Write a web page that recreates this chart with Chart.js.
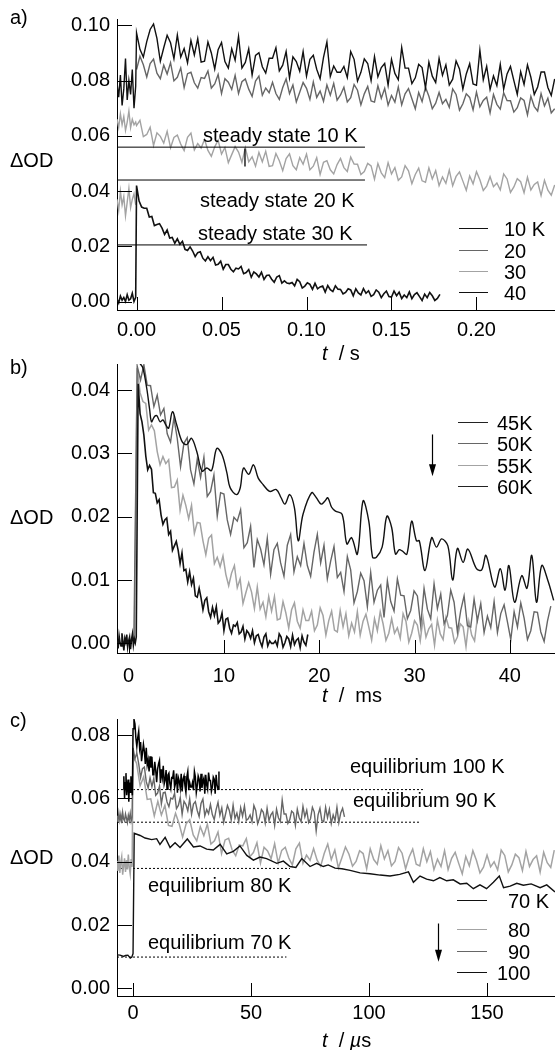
<!DOCTYPE html>
<html>
<head>
<meta charset="utf-8">
<script src="https://cdn.jsdelivr.net/npm/chart.js@4.4.1/dist/chart.umd.min.js"></script>
<style>
  body { margin: 0; background: #fff; }
  #page { position: relative; width: 555px; height: 1050px; overflow: hidden;
          font-family: "Liberation Sans", Arial, Helvetica, sans-serif; font-size: 20px; color: #000; }
  canvas { position: absolute; left: 0; }
  .lbl { position: absolute; line-height: 24px; white-space: nowrap; }
  .key { position: absolute; height: 0; border-top: 1.5px solid #000; }
</style>
</head>
<body>
<div id="page">
  <canvas id="chartA" width="555" height="345" style="top:0px"></canvas>
  <canvas id="chartB" width="555" height="355" style="top:345px"></canvas>
  <canvas id="chartC" width="555" height="350" style="top:700px"></canvas>
</div>
<script>
const FONT = '"Liberation Sans", Arial, Helvetica, sans-serif';
const mOD = 0.001; // all trace values below are written in units of 1e-3 ΔOD
const BLACK = '#111', DARK = '#666', LIGHT = '#a3a3a3';

// ---------- a) t / s ----------
const xTicksA = [0, 0.05, 0.10, 0.15, 0.20];
const yTicksA = [0, 0.02, 0.04, 0.06, 0.08, 0.10];
const legendA = ['10 K', '20', '30', '40'];
const legendColorsA = [BLACK, DARK, LIGHT, BLACK];
const preStartA = -0.0115, preStepA = 0.001;
const pre10K = [79, 74, 82, 71, 77, 88, 73, 80, 75, 84, 70, 78];
const post10K = [ // t = 0 ... every 2 ms
  97.3, 91.3, 88.5, 94.1, 98.5, 100.5, 95.3, 87.0, 91.9, 96.4,
  93.7, 87.9, 96.5, 88.5, 91.6, 86.4, 94.5, 89.3, 95.2, 86.7,
  87.0, 94.0, 90.0, 84.2, 91.2, 93.8, 86.9, 84.5, 91.5, 87.4,
  96.0, 84.5, 86.6, 91.5, 82.0, 89.1, 90.1, 85.0, 82.7, 88.1,
  88.1, 91.9, 83.5, 85.6, 90.5, 81.0, 88.6, 86.9, 83.4, 90.5,
  81.6, 87.7, 89.2, 84.1, 80.7, 88.4, 94.0, 81.5, 85.3, 83.0,
  83.0, 85.1, 81.1, 90.5, 87.7, 79.8, 83.0, 87.9, 86.2, 80.0,
  88.7, 81.4, 84.7, 86.2, 78.4, 87.7, 82.6, 80.3, 92.0, 84.5,
  84.5, 78.9, 81.0, 85.9, 84.7, 77.4, 86.7, 81.6, 79.3, 88.0,
  81.9, 85.7, 78.4, 80.5, 87.1, 84.2, 76.9, 82.4, 86.1, 78.8,
  78.3, 91.0, 80.3, 85.2, 76.8, 81.7, 78.2, 85.9, 76.9, 82.4,
  85.1, 80.0, 75.0, 83.2, 78.6, 85.7, 81.2, 75.0, 77.7, 83.1,
  83.1, 77.5, 74.6, 80.6];
const post20K = [
  84.0, 88.8, 85.7, 81.3, 86.2, 87.8, 82.7, 80.7, 85.6, 82.4,
  86.5, 79.9, 81.2, 84.6, 77.5, 82.5, 83.0, 79.2, 77.3, 81.1,
  80.8, 83.5, 77.3, 78.8, 82.2, 75.3, 80.7, 79.4, 76.8, 81.9,
  75.3, 79.6, 80.6, 76.9, 74.3, 79.8, 81.6, 74.7, 77.3, 75.6,
  79.4, 75.3, 73.2, 77.5, 80.6, 75.3, 78.4, 72.3, 75.8, 79.3,
  77.2, 73.2, 79.5, 73.9, 76.2, 72.5, 78.4, 74.7, 79.0, 72.9,
  74.8, 77.6, 72.3, 73.8, 78.6, 76.5, 71.2, 75.2, 77.9, 72.6,
  72.2, 78.1, 73.6, 77.2, 71.1, 74.6, 72.2, 77.7, 71.2, 75.2,
  77.1, 73.4, 69.8, 75.7, 72.4, 77.6, 74.3, 69.8, 71.8, 75.7,
  71.6, 73.2, 70.3, 77.0, 75.0, 69.3, 71.6, 75.2, 73.9, 69.4,
  75.8, 70.5, 72.8, 74.0, 68.3, 75.0, 71.4, 69.7, 75.6, 72.8,
  72.7, 68.6, 70.2, 73.7, 72.8, 67.6, 74.3, 70.6, 69.0, 75.3,
  70.8, 73.6, 68.3, 69.8];
const pre30K = [66, 63, 68, 64, 67, 62, 65, 69, 63, 66, 64, 65];
const pre30Kb = [37, 33, 40, 35, 38, 31, 36, 41, 34, 37, 39, 35];
const post30K = [
  63.7, 65.6, 59.7, 60.5, 63.1, 56.5, 61.1, 59.8, 57.4, 61.6,
  55.7, 59.4, 60.3, 57.0, 54.7, 59.5, 61.0, 54.9, 57.2, 55.6,
  58.7, 54.7, 52.6, 56.0, 58.4, 53.4, 55.8, 50.3, 53.2, 56.1,
  54.1, 50.4, 55.7, 50.6, 52.4, 49.0, 54.0, 50.6, 54.4, 48.9,
  49.2, 53.6, 51.0, 47.4, 51.8, 53.5, 49.2, 47.7, 52.1, 49.7,
  53.4, 47.7, 49.0, 52.1, 46.0, 50.4, 51.0, 47.7, 46.2, 49.6,
  51.8, 48.5, 47.1, 52.3, 49.8, 49.7, 46.0, 47.1, 50.0, 49.1,
  44.3, 50.0, 46.6, 44.9, 50.3, 46.2, 48.5, 43.9, 45.1, 49.2,
  47.3, 42.7, 46.0, 48.3, 43.7, 43.2, 48.4, 44.4, 47.4, 42.0,
  45.1, 42.8, 47.6, 41.9, 45.3, 46.9, 43.6, 40.3, 45.5, 42.6,
  47.0, 44.1, 40.2, 41.8, 45.2, 41.6, 42.9, 40.4, 46.2, 44.4,
  39.5, 41.5, 44.5, 43.4, 39.4, 45.0, 40.4, 42.4, 43.3, 38.4,
  43.9, 40.3, 38.5, 42.2];
const pre40K = [1, -0.5, 2, 0.5, 1.5, 0, 2.5, 0.5, 1, 3, 0, 1.5];
const post40K = [ // every 1.5 ms
  42, 36.4, 34.2, 33.8, 33.8, 30.6, 30.8, 27.5, 27.9, 28.2,
  26.6, 24.3, 25.9, 23.0, 23.2, 21.1, 22.7, 20.7, 21.8, 18.9,
  18.5, 19.8, 18.3, 16.3, 17.7, 18.0, 15.7, 14.7, 16.2, 14.8,
  16.0, 13.2, 13.5, 14.6, 11.7, 13.4, 13.4, 11.7, 10.8, 12.1,
  11.8, 12.7, 10.1, 10.5, 11.6, 8.8, 10.7, 10.0, 8.9, 10.6,
  8.0, 9.4, 9.6, 8.1, 7.0, 8.9, 9.4, 6.7, 7.5, 6.7,
  6.5, 6.9, 5.7, 8.0, 7.2, 4.9, 5.6, 6.8, 6.2, 4.4,
  6.6, 4.6, 5.3, 5.6, 3.4, 5.8, 4.3, 3.6, 5.7, 4.5,
  4.4, 2.8, 3.3, 4.6, 4.2, 2.1, 4.6, 3.1, 2.4, 4.7,
  3.0, 3.9, 1.9, 2.5, 4.2, 3.4, 1.4, 2.8, 3.8, 1.8,
  1.6, 3.8, 2.1, 3.4, 1.1, 2.4, 1.4, 3.5, 1.0, 2.5,
  3.2, 1.8, 0.4, 2.7, 1.4, 3.3, 2.1, 0.4, 1.1, 2.6];
const steadyLevelsA = [55.9, 44.0, 20.5];
const steadyEndsA = [0.1344, 0.1344, 0.1356];
const steadyTextsA = ['steady state 10 K', 'steady state 20 K', 'steady state 30 K'];
const markA = { t: 0.0638, from: 55.4, to: 48.9 };

// ---------- b) t / ms ----------
const xTicksB = [0, 10, 20, 30, 40];
const yTicksB = [0, 0.01, 0.02, 0.03, 0.04];
const legendB = ['45K', '50K', '55K', '60K'];
const legendColorsB = ['#222', DARK, LIGHT, '#222'];
const t45K = [1.2, 1.5, 1.9, 2.2, 2.4, 2.7, 2.95, 3.3, 3.6, 3.9, 4.2, 4.6, 5.05, 5.6, 6.1, 6.6, 7.15, 7.7, 8.2, 8.7,
  9.25, 9.8, 10.3, 10.65, 11.3, 11.7, 12.05, 12.6, 13.1, 13.6, 14.1, 14.8, 15.5, 16.0, 16.4, 16.9, 17.4, 17.8, 18.3, 19.2,
  19.7, 20.2, 20.6, 20.9, 21.3, 21.7, 22.4, 22.9, 23.4, 24.0, 24.6, 25.2, 25.6, 26.0, 26.6, 27.1, 27.6, 28.0, 28.4, 28.7,
  29.2, 29.7, 30.2, 30.5, 31.1, 31.8, 32.3, 32.85, 33.5, 34.0, 34.5, 35.1, 35.6, 36.5, 37.05, 37.5, 38.4, 39.0, 39.5, 39.9,
  40.5, 41.25, 41.8, 42.3, 42.8, 43.35, 44.0, 44.6];
const v45K = [44.2, 43.5, 40.3, 37, 35, 35.8, 36, 35, 35.3, 34.5, 34, 36.6, 34.5, 31.9, 31.4, 32.4, 30.3, 27.2, 27.7, 27.3,
  30.8, 29.8, 27, 24.6, 23.5, 24.5, 27.7, 26.7, 28.2, 26.1, 25.1, 24, 24.3, 23, 22, 23.5, 21.4, 16.2, 20.4, 23.8,
  23, 22, 22.5, 23, 21.5, 20.9, 20.4, 15.7, 16.7, 14.1, 22.5, 19.3, 13.6, 13.6, 15.2, 20.1, 18.3, 14.1, 14.8, 14.6,
  14.1, 19.3, 16.2, 16.2, 11.5, 16.7, 15.2, 16.5, 15.4, 10.0, 15.0, 12.8, 14.9, 11.8, 11.6, 13.9, 8.9, 11.8, 8.4, 12.3,
  6.5, 10.7, 8.7, 13.9, 6.5, 12.3, 9.9, 6.8];
const post50K = [ // t = 0.55 ... every 0.35 ms
  0.3,
  43.8, 41.6, 44.0, 40.8, 40.7, 37.4, 39.2, 36.1, 37.1, 33.1,
  31.8, 35.6, 32.4, 27.9, 31.6, 32.5, 27.4, 25.2, 29.1, 26.2,
  29.4, 23.2, 24.0, 26.6, 20.1, 23.8, 23.6, 19.5, 17.2, 19.9,
  19.3, 21.1, 15.1, 15.9, 18.5, 12.0, 16.4, 14.9, 12.4, 16.6,
  10.9, 14.8, 15.8, 12.7, 10.6, 15.5, 17.2, 11.3, 13.7, 12.3,
  15.8, 12.3, 10.6, 14.4, 17.2, 12.7, 15.5, 10.2, 13.0, 15.3,
  10.4, 11.2, 8.2, 13.7, 11.6, 6.4, 8.2, 11.1, 9.9, 5.8,
  11.2, 6.5, 8.4, 9.2, 4.1, 9.9, 6.6, 5.1, 10.2, 7.6,
  7.5, 3.9, 5.2, 8.3, 7.5, 2.8, 8.7, 5.4, 3.9, 9.4,
  5.5, 7.8, 3.1, 4.4, 8.4, 6.5, 1.8, 5.2, 7.5, 2.8,
  2.6, 7.0, 3.6, 6.3, 1.7, 4.3, 2.5, 6.6, 1.7, 4.7,
  6.1, 3.4, 0.6, 5.0, 2.6, 6.4, 4.0, 0.6, 2.0, 5.0,
  4.9, 1.8, 0.3, 3.5, 5.9];
const post55K = [ // t = 0.6 ... every 0.3 ms
  0.5,
  43.5, 39.6, 38.2, 37.9, 33.7, 34.5, 33.6, 30.3, 28.2, 29.5,
  28.4, 29.0, 24.6, 24.7, 25.8, 21.0, 23.4, 21.8, 19.7, 21.8,
  17.4, 19.1, 19.0, 16.2, 14.0, 16.6, 17.1, 12.6, 13.6, 12.1,
  13.8, 10.9, 9.1, 11.1, 12.3, 8.8, 10.2, 6.3, 8.0, 9.6,
  8.1, 5.5, 8.9, 5.4, 6.5, 4.2, 7.4, 5.1, 7.4, 3.7,
  3.9, 6.6, 4.8, 2.4, 5.3, 6.4, 3.5, 2.4, 5.3, 3.6,
  3.6, 5.1, 2.0, 2.9, 5.6, 4.4, 1.3, 3.6, 5.1, 2.1,
  1.8, 5.2, 2.6, 4.7, 1.2, 3.2, 1.8, 5.0, 1.3, 3.5,
  4.6, 2.6, 0.5, 3.9, 2.0, 5.0, 3.1, 0.5, 1.6, 3.9,
  1.6, 2.45, 0.8, 4.7, 3.5, 0.2, 1.6, 3.6, 2.9, 0.4,
  4.0, 1.0, 2.3, 3.0, -0.3, 3.7, 1.5, 0.6, 4.1, 2.5,
  2.4, 0.1, 1.0, 3.1, 2.6, -0.5, 3.5, 1.3, 0.4, 4.1];
const pre60K = [0.5, -0.8, 1.2, 0.1, -0.4, 1.6, 0.3, -1.1, 0.8, 0.2, 1.4, -0.6, 0.4, 1.0, -0.9, 0.6, 1.5, -0.3, 0.7, 0.1];
const post60K = [ // t = 0.8 ... every 0.2 ms
  1, 41, 36.3, 35.0, 32.9, 29.6, 27.4, 28.1, 27.5, 23.8,
  23.7, 22.2, 22.7, 20.3, 18.8, 19.5, 19.8, 17.2, 17.7, 14.7,
  15.4, 16.1, 14.7, 12.6, 14.3, 11.5, 11.7, 9.7, 11.3, 9.3,
  10.3, 7.5, 7.3, 8.7, 7.2, 5.3, 6.8, 7.2, 5.0, 4.1,
  5.7, 4.4, 5.8, 3.2, 3.6, 4.8, 2.0, 3.8, 4.0, 2.4,
  1.6, 2.9, 2.7, 3.3, 1.5, 1.8, 2.7, 0.7, 2.0, 1.6,
  0.8, 2.0, 0.1, 1.2, 1.4, 0.3, -0.5, 1.0, 1.5, -0.4,
  0.4, 0.0, 0.0, 0.4, -0.4, 1.5, 1.0, -0.6, 0.1, 1.1,
  0.7, -0.5, 1.3, -0.2, 0.5, 0.8, -0.7, 1.2, 0.2, -0.3,
  1.4];
const arrowB = { x: 31.8, from: 0.0330, to: 0.0264 };

// ---------- c) t / µs ----------
const xTicksC = [0, 50, 100, 150];
const yTicksC = [0, 0.02, 0.04, 0.06, 0.08];
const legendC = ['70 K', '80', '90', '100'];
const legendColorsC = [BLACK, LIGHT, DARK, BLACK];
const t70K = [-6.8, -5.5, -4, -3.2, -2.2, -1.2, -0.5, 0.0, 0.5, 3, 5.1, 7.9, 10, 11.4, 13.6, 15.7, 17.8, 19.9, 23, 25.6,
  28.4, 31.2, 34, 36.9, 39.7, 42.5, 45.3, 48.2, 51, 53.8, 56.6, 60.9, 63.7, 66.5, 69, 71.5, 75, 77.8, 80.6, 82.7,
  85.6, 88.5, 92, 96.2, 100.4, 104.7, 108.9, 113, 116.7, 118.8, 121.6, 124.4, 127.3, 130, 132.9, 135.7, 138.6, 141.4, 144.2, 147,
  149.8, 152.7, 155.2, 157, 159.8, 162.6, 165.4, 168.7, 172.5, 175.3, 178.8];
const v70K = [10.6, 10.5, 10.1, 10.4, 10.5, 9.6, 9.9, 11, 49, 48.3, 47.5, 47.0, 47.3, 45.5, 47.7, 44.5, 46, 44.5, 47.2, 44.7,
  45, 44, 43.7, 45.5, 42.5, 43.3, 45, 42, 40.5, 41.5, 41, 39.5, 40.2, 38.5, 38.2, 41, 38.5, 39.5, 38.5, 39,
  38, 37.8, 37.3, 36.5, 36.2, 35.8, 35.5, 36, 36.8, 33.5, 35.5, 34.5, 34, 35, 34, 34.3, 33, 33.2, 31.5, 32.7,
  31.5, 33.5, 35.5, 31.8, 32.3, 33.2, 32.6, 33.0, 31.8, 32.7, 30.5];
const preStartC = -6.8, preStepC = 0.4;
const pre80K = [40.2, 37.1, 42.0, 36.5, 39.8, 41.6, 35.9, 38.7, 41.1, 36.8, 40.5, 37.6, 42.3, 38.2, 36.1, 40.9, 38.4];
const post80K = [ // t = 0 ... every 1.5 µs
  73.5, 71.1, 64.0, 66.8, 59.7, 59.9, 54.5, 59.1, 54.8, 57.8,
  51.5, 51.2, 55.3, 52.1, 47.8, 52.0, 53.3, 48.5, 46.6, 51.1,
  48.2, 51.9, 45.6, 46.6, 49.4, 42.6, 46.9, 47.4, 43.7, 41.9,
  45.3, 45.0, 47.3, 41.6, 42.9, 46.0, 39.6, 44.6, 43.4, 41.0,
  45.7, 39.6, 43.6, 44.6, 41.2, 39.0, 44.1, 45.9, 39.5, 42.1,
  40.5, 44.2, 40.5, 38.6, 42.6, 45.6, 40.7, 43.7, 38.1, 41.3,
  44.7, 42.4, 38.6, 40.1, 43.5, 42.6, 37.8, 44.1, 40.7, 39.2,
  45.1, 40.9, 43.5, 38.7, 40.1, 44.5, 42.7, 37.8, 41.5, 44.0,
  39.2, 38.7, 44.1, 40.0, 43.2, 37.5, 40.8, 38.5, 43.5, 37.5,
  41.1, 43.0, 39.5, 36.2, 41.7, 38.7, 43.5, 40.5, 36.5, 38.3,
  42.1, 38.4, 40.0, 37.4, 43.7, 42.0, 36.8, 39.0, 42.4, 41.3,
  37.2, 43.3, 38.5, 40.7, 41.9, 36.7, 43.0, 39.7, 38.2, 43.7];
const pre90K = [54.5, 52.6, 55.4, 53.1, 54.9, 52.2, 55.6, 53.5, 52.9, 55.1, 53.8, 52.4, 54.7, 53.2, 55.3, 52.8, 54.1];
const post90K = [ // t = 0 ... every 0.8 µs
  76, 72.5, 74.4, 70.9, 66.6, 69.4, 69.9, 65.3, 63.3, 66.5,
  63.7, 66.4, 61.0, 61.7, 63.9, 58.3, 61.8, 62.0, 58.9, 57.4,
  60.1, 59.8, 61.6, 56.8, 57.8, 60.3, 55.0, 59.1, 58.1, 56.1,
  59.9, 55.0, 58.2, 59.0, 56.2, 54.3, 58.4, 59.8, 54.5, 56.5,
  55.2, 58.1, 54.9, 53.3, 56.5, 58.8, 54.7, 57.0, 52.5, 55.1,
  57.8, 56.2, 53.2, 57.9, 53.7, 55.4, 52.7, 57.1, 54.4, 57.6,
  53.1, 53.6, 54.8, 52.7, 57.8, 56.2, 52.0, 53.8, 56.5, 55.6,
  52.3, 56.9, 53.0, 54.8, 55.7, 51.5, 56.6, 53.9, 52.7, 59.5,
  55.1, 55.1, 52.1, 53.3, 56.0, 55.4, 51.5, 56.6, 53.9, 52.7,
  57.5, 54.2, 56.3, 52.4, 53.6, 57.2, 55.7, 49.8, 54.8, 56.9,
  53.0, 52.7, 57.2, 53.9, 56.6, 52.1, 54.8, 53.0, 57.2, 52.4,
  55.4, 56.9, 54.2];
const pre100K = [63, 67, 60, 65, 68, 61, 64, 66, 59, 65, 62, 67, 63, 61]; // t = -4.2 ... every 0.3 µs
const post100K = [ // t = 0 ... every 0.4 µs
  82, 85, 83.6, 79.1, 76.4, 79.2, 81.2, 75.8, 77.8, 71.8,
  74.5, 77.1, 74.9, 70.9, 76.0, 70.6, 72.2, 68.5, 73.3, 69.7,
  73.2, 67.5, 67.5, 71.6, 68.9, 65.1, 69.3, 70.9, 72.0, 64.9,
  69.2, 66.7, 70.3, 64.6, 65.9, 69.0, 62.9, 67.4, 68.0, 64.7,
  63.2, 66.6, 66.5, 68.9, 63.5, 64.8, 67.9, 61.8, 66.6, 65.5,
  63.3, 67.8, 62.2, 66.1, 67.1, 64.0, 61.9, 66.8, 68.5, 62.6,
  65.0, 63.6, 63.6, 65.0, 62.6, 68.5, 66.8, 61.9, 64.0, 67.1,
  66.1, 62.2, 67.8, 63.3, 65.4, 66.4, 61.5, 67.5, 64.3, 62.9,
  68.2, 65.7, 65.7, 62.2, 63.6, 66.8, 66.1, 61.5, 67.5, 64.3,
  62.9, 68.5];
const eqLevelsC = [62.8, 52.5, 37.9, 9.9];      // 100, 90, 80, 70 K
const eqEndsC = [123.7, 121.6, 66.5, 65];
const eqTextsC = ['equilibrium 100 K', 'equilibrium 90 K', 'equilibrium 80 K', 'equilibrium 70 K'];
const arrowC = { x: 129.2, from: 0.0205, to: 0.0084 };

// ---------- helpers ----------
function series(t0, dt, vals) {
  return vals.map((v, i) => ({ x: t0 + i * dt, y: v * mOD }));
}
function pairs(ts, vals) {
  return ts.map((t, i) => ({ x: t, y: vals[i] * mOD }));
}
function hline(level, t0, t1) {
  return [{ x: t0, y: level * mOD }, { x: t1, y: level * mOD }];
}
function trace(data, color, order, extra) {
  return Object.assign({ data, borderColor: color, borderWidth: 1.3, showLine: true,
    pointRadius: 0, tension: 0, order }, extra || {});
}

const inwardTicks = {
  id: 'inwardTicks',
  afterDatasetsDraw(chart, args, opts) {
    const { ctx, chartArea: a, scales: { x, y } } = chart;
    ctx.save();
    ctx.strokeStyle = '#000';
    ctx.lineWidth = 1;
    ctx.beginPath();
    x.ticks.forEach(t => {
      const px = Math.round(x.getPixelForValue(t.value)) + 0.5;
      ctx.moveTo(px, a.bottom); ctx.lineTo(px, a.bottom - opts.xLen);
    });
    y.ticks.forEach(t => {
      const py = Math.round(y.getPixelForValue(t.value)) + 0.5;
      ctx.moveTo(a.left, py); ctx.lineTo(a.left + opts.yLen, py);
    });
    ctx.stroke();
    ctx.restore();
  }
};

const arrowPlugin = {
  id: 'arrow',
  afterDatasetsDraw(chart, args, opts) {
    if (!opts || opts.x === undefined) return;
    const { ctx, scales: { x, y } } = chart;
    const px = Math.round(x.getPixelForValue(opts.x)) + 0.5;
    const y0 = y.getPixelForValue(opts.from), y1 = y.getPixelForValue(opts.to);
    ctx.save();
    ctx.strokeStyle = '#000'; ctx.fillStyle = '#000'; ctx.lineWidth = 1.2;
    ctx.beginPath(); ctx.moveTo(px, y0); ctx.lineTo(px, y1 - 10); ctx.stroke();
    ctx.beginPath(); ctx.moveTo(px - 3.5, y1 - 12); ctx.lineTo(px + 3.5, y1 - 12); ctx.lineTo(px, y1);
    ctx.closePath(); ctx.fill();
    ctx.restore();
  }
};

function makeChart(id, cfg) {
  const tickFont = { size: 20, family: FONT };
  return new Chart(document.getElementById(id), {
    type: 'scatter',
    data: { datasets: cfg.datasets },
    options: {
      responsive: false,
      animation: false,
      events: [],
      layout: { padding: { top: cfg.top, left: 0, right: 0, bottom: 0 } },
      plugins: {
        legend: { display: false },
        tooltip: { enabled: false },
        inwardTicks: { xLen: 13, yLen: 15 },
        arrow: cfg.arrow || false
      },
      scales: {
        x: {
          type: 'linear', min: cfg.xMin, max: cfg.xMax,
          afterBuildTicks: s => { s.ticks = cfg.xTicks.map(v => ({ value: v })); },
          afterFit: s => { s.height = cfg.xHeight; },
          grid: { display: false, drawTicks: false },
          border: { display: true, color: '#000', width: 1 },
          ticks: { color: '#000', font: tickFont, padding: cfg.xPad, maxRotation: 0,
                   autoSkip: false, callback: cfg.xFmt }
        },
        y: {
          type: 'linear', min: cfg.yMin, max: cfg.yMax,
          afterBuildTicks: s => { s.ticks = cfg.yTicks.map(v => ({ value: v })); },
          afterFit: s => { s.width = 117; },
          grid: { display: false, drawTicks: false },
          border: { display: true, color: '#000', width: 1 },
          ticks: { color: '#000', font: tickFont, padding: 7, autoSkip: false,
                   callback: v => v.toFixed(2) }
        }
      }
    },
    plugins: [inwardTicks, arrowPlugin]
  });
}

// ---------- panel a ----------
const xMinA = -0.0115, xMaxA = 0.2462;
const dsA = [];
steadyLevelsA.forEach((lv, i) => dsA.push(trace(hline(lv, xMinA, steadyEndsA[i]), '#000', 0, { borderWidth: 1 })));
dsA.push(trace([{ x: markA.t, y: markA.from * mOD }, { x: markA.t, y: markA.to * mOD }], '#000', 0));
dsA.push(trace(series(preStartA, preStepA, pre10K).concat(series(0, 0.002, post10K)), BLACK, 1, { borderWidth: 1.4 }));
dsA.push(trace(series(0, 0.002, post20K), DARK, 2, { borderWidth: 1.4 }));
dsA.push(trace(series(preStartA, preStepA, pre30K).concat(series(0, 0.002, post30K)), LIGHT, 3, { borderWidth: 1.4 }));
dsA.push(trace(series(preStartA, preStepA, pre30Kb), LIGHT, 3, { borderWidth: 1.4 }));
dsA.push(trace(series(preStartA, preStepA, pre40K).concat(series(0, 0.0015, post40K)), BLACK, 1, { borderWidth: 1.6 }));
makeChart('chartA', {
  datasets: dsA, top: 17, xHeight: 35, xPad: 8,
  xMin: xMinA, xMax: xMaxA, yMin: -0.00306, yMax: 0.1023,
  xTicks: xTicksA, yTicks: yTicksA, xFmt: v => v.toFixed(2)
});

// ---------- panel b ----------
const dsB = [];
dsB.push(trace(pairs(t45K, v45K), '#111', 0, { borderWidth: 1.4, tension: 0.35 }));
dsB.push(trace(series(-1.2, 0.1, pre60K).concat(series(0.8, 0.2, post60K)), BLACK, 1, { borderWidth: 1.6 }));
dsB.push(trace(series(0.55, 0.35, post50K), DARK, 2, { borderWidth: 1.4 }));
dsB.push(trace(series(0.6, 0.3, post55K), LIGHT, 3, { borderWidth: 1.5 }));
makeChart('chartB', {
  datasets: dsB, top: 17, xHeight: 47, xPad: 11,
  xMin: -1.22, xMax: 44.74, yMin: -0.00152, yMax: 0.04413,
  xTicks: xTicksB, yTicks: yTicksB, xFmt: v => String(v), arrow: arrowB
});

// ---------- panel c ----------
const xMinC = -6.8, xMaxC = 178.8;
const dsC = [];
eqLevelsC.forEach((lv, i) => dsC.push(trace(hline(lv, xMinC, eqEndsC[i]), '#000', 5, { borderWidth: 1, borderDash: [2, 2] })));
dsC.push(trace(pairs(t70K, v70K), BLACK, 0, { borderWidth: 1.4 }));
dsC.push(trace(series(preStartC, preStepC, pre80K).concat(series(0, 1.5, post80K)), LIGHT, 3, { borderWidth: 1.5 }));
dsC.push(trace(series(preStartC, preStepC, pre90K).concat(series(0, 0.8, post90K)), DARK, 2, { borderWidth: 1.4 }));
dsC.push(trace(series(-4.2, 0.3, pre100K).concat(series(0, 0.4, post100K)), '#000', 1, { borderWidth: 1.5 }));
makeChart('chartC', {
  datasets: dsC, top: 5, xHeight: 54, xPad: 5,
  xMin: xMinC, xMax: xMaxC, yMin: -0.0024, yMax: 0.0851,
  xTicks: xTicksC, yTicks: yTicksC, xFmt: v => String(v), arrow: arrowC
});

// ---------- text and keys ----------
const page = document.getElementById('page');
function addLabel(html, left, cy) {
  const d = document.createElement('div');
  d.className = 'lbl';
  d.innerHTML = html;
  d.style.left = left + 'px';
  d.style.top = (cy - 12) + 'px';
  page.appendChild(d);
}
function addKeys(names, colors, lineX0, lineX1, textX, rows) {
  names.forEach((n, i) => {
    const k = document.createElement('div');
    k.className = 'key';
    k.style.left = lineX0 + 'px';
    k.style.width = (lineX1 - lineX0) + 'px';
    k.style.top = (rows[i] - 1) + 'px';
    k.style.borderTopColor = colors[i];
    page.appendChild(k);
    addLabel(n, textX[i], rows[i]);
  });
}

addLabel('a)', 10, 17);
addLabel('b)', 10, 367);
addLabel('c)', 10, 720);
addLabel('ΔOD', 10, 160);
addLabel('ΔOD', 10, 517);
addLabel('ΔOD', 10, 857);
addLabel('<i>t</i>&nbsp; /&nbsp;s', 322, 353);
addLabel('<i>t</i>&nbsp; /&nbsp; ms', 322, 695);
addLabel('<i>t</i>&nbsp; /&nbsp;<i>µ</i>s', 322, 1040);

addLabel(steadyTextsA[0], 203, 135);
addLabel(steadyTextsA[1], 200, 200);
addLabel(steadyTextsA[2], 198, 233);
addLabel(eqTextsC[0], 350, 766);
addLabel(eqTextsC[1], 353, 800);
addLabel(eqTextsC[2], 148, 885);
addLabel(eqTextsC[3], 148, 942);

addKeys(legendA, legendColorsA, 459, 488, [504, 504, 504, 504], [229, 251, 272, 293]);
addKeys(legendB, legendColorsB, 458, 488, [497, 497, 497, 497], [423, 444, 466, 487]);
addKeys(legendC, legendColorsC, 457, 487, [508, 508, 508, 497], [901, 930, 952, 973]);
</script>
</body>
</html>
